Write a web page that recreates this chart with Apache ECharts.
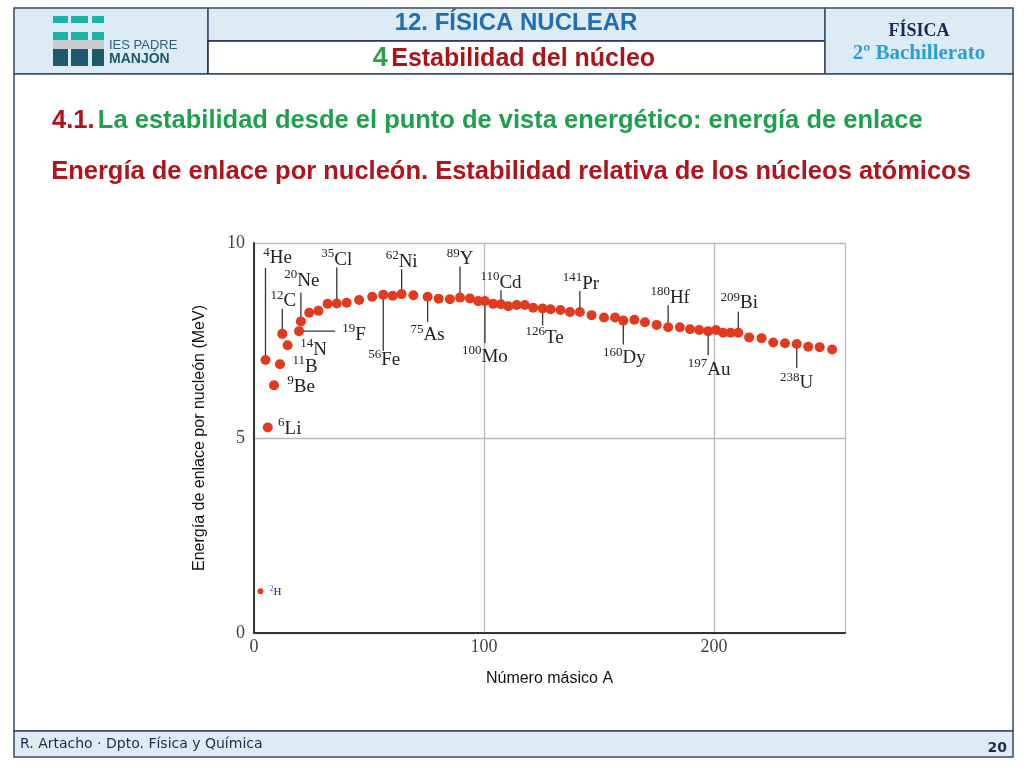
<!DOCTYPE html>
<html>
<head>
<meta charset="utf-8">
<script src="https://cdn.jsdelivr.net/npm/echarts@6/dist/echarts.min.js"></script>
<style>
html,body{margin:0;padding:0;background:#fff;}
#c{width:1024px;height:768px;}
</style>
</head>
<body>
<div id="c"></div>
<script>
// ---- data ----
const xTicks = [0, 100, 200];
const yTicks = [0, 5, 10];
// binding energy per nucleon [mass number A, MeV]
const dots = [
  [5,7.0],[6,5.27],[8.7,6.35],[11.3,6.89],[12.3,7.67],[14.6,7.38],[19.6,7.74],[20.4,7.99],
  [24,8.21],[28,8.26],[32,8.44],[36,8.45],[40.3,8.47],[45.7,8.54],[51.4,8.62],[56.2,8.67],
  [60.3,8.65],[64.2,8.69],[69.3,8.66],[75.5,8.62],[80.3,8.57],[85.2,8.56],[89.6,8.6],[93.9,8.58],
  [97.5,8.51],[100.4,8.51],[104,8.44],[107.4,8.43],[110.6,8.38],[114.2,8.41],[117.8,8.41],[121.4,8.34],
  [125.5,8.32],[129,8.30],[133.3,8.28],[137.4,8.23],[141.7,8.23],[146.8,8.15],[152.2,8.09],[157,8.09],
  [160.6,8.01],[165.4,8.03],[170,7.97],[175.1,7.90],[180.1,7.84],[185.2,7.84],[189.6,7.79],[193.6,7.77],
  [197.5,7.74],[200.9,7.77],[204,7.7],[207.3,7.7],[210.6,7.7],[215.3,7.58],[220.7,7.56],[225.8,7.45],
  [230.9,7.43],[236,7.41],[241,7.34],[246,7.33],[251.4,7.27]
];
const deuteron = [[2.8,1.07]];
// labelled isotopes: [mass number, symbol, A, MeV]
const isotopes = [
  [4,'He',5,7.0],[6,'Li',6,5.27],[9,'Be',8.7,6.35],[11,'B',11.3,6.89],[12,'C',12.3,7.67],
  [14,'N',14.6,7.38],[19,'F',19.6,7.74],[20,'Ne',20.4,7.99],[35,'Cl',36,8.45],[56,'Fe',56.2,8.67],
  [62,'Ni',64.2,8.69],[75,'As',75.5,8.62],[89,'Y',89.6,8.6],[100,'Mo',100.4,8.51],[110,'Cd',107.4,8.43],
  [126,'Te',125.5,8.32],[141,'Pr',141.7,8.23],[160,'Dy',160.6,8.01],[180,'Hf',180.1,7.84],
  [197,'Au',197.5,7.74],[209,'Bi',210.6,7.7],[238,'U',236,7.41],[2,'H',2.8,1.07]
];

// ---- label layout (pixel offsets from each dot: leader line, text centre) ----
const labelLayout = {
  He:{l:[0,-4,0,-92],t:[12,-103]}, Li:{t:[22,0]}, Be:{t:[27,0]}, B:{t:[25,1]},
  C:{l:[0,-4,0,-25],t:[1,-34]}, N:{t:[26,3]}, F:{l:[4,0,36,0],t:[55,2]},
  Ne:{l:[0,-4,0,-29],t:[1,-42]}, Cl:{l:[0,-4,0,-36],t:[0,-45]}, Fe:{l:[0,4,0,56],t:[1,64]},
  Ni:{l:[0,-4,0,-25],t:[0,-34]}, As:{l:[0,4,0,25],t:[0,37]}, Y:{l:[0,-4,0,-31],t:[0,-40]},
  Mo:{l:[0,4,0,42],t:[0,54]}, Cd:{l:[0,-4,0,-14],t:[0,-23]}, Te:{l:[0,4,0,17],t:[2,28]},
  Pr:{l:[0,-4,0,-21],t:[1,-30]}, Dy:{l:[0,4,0,24],t:[1,36]}, Hf:{l:[0,-4,0,-22],t:[2,-31]},
  Au:{l:[0,4,0,24],t:[1,37]}, Bi:{l:[0,-4,0,-21],t:[1,-31]}, U:{l:[0,4,0,24],t:[0,38]},
  H:{t:[15,0],small:true}
};

const RED = '#e23a1f';
const SERIF = "'Liberation Serif','DejaVu Serif',serif";
const SANS = "'Liberation Sans',Arial,sans-serif";
const FRAME = '#3a4a68';
const LIGHT = '#dcebf4';

const chart = echarts.init(document.getElementById('c'), null, {renderer:'canvas'});

function renderLabel(params, api){
  const iso = isotopes[params.dataIndex];
  const p = api.coord([api.value(0), api.value(1)]);
  const L = labelLayout[iso[1]];
  const children = [];
  if (L.l){
    children.push({type:'line', shape:{x1:p[0]+L.l[0], y1:p[1]+L.l[1], x2:p[0]+L.l[2], y2:p[1]+L.l[3]},
      style:{stroke:'#333', lineWidth:1.3}});
  }
  const big = L.small ? 11 : 19, sm = L.small ? 8 : 13, lh = L.small ? 13 : 22;
  children.push({type:'text', x:p[0]+L.t[0], y:p[1]+L.t[1],
    style:{text:'{m|'+iso[0]+'}{s|'+iso[1]+'}', align:'center', verticalAlign:'middle',
      rich:{
        m:{fontSize:sm, fontFamily:SERIF, fill: L.small ? '#3a6ea8' : '#222', verticalAlign:'top', lineHeight:lh},
        s:{fontSize:big, fontFamily:SERIF, fill:'#222', verticalAlign:'bottom', lineHeight:lh}
      }}});
  return {type:'group', children};
}

const graphics = [
  // header boxes
  {type:'rect', shape:{x:14,y:8,width:194,height:66}, style:{fill:LIGHT, stroke:FRAME, lineWidth:1.5}},
  {type:'rect', shape:{x:208,y:8,width:617,height:33}, style:{fill:LIGHT, stroke:FRAME, lineWidth:1.5}},
  {type:'rect', shape:{x:208,y:41,width:617,height:33}, style:{fill:'#fff', stroke:'#1f2a44', lineWidth:1.5}},
  {type:'rect', shape:{x:825,y:8,width:188,height:66}, style:{fill:LIGHT, stroke:FRAME, lineWidth:1.5}},
  // body frame
  {type:'rect', shape:{x:14,y:74,width:999,height:657}, style:{fill:'#fff', stroke:FRAME, lineWidth:1.5}},
  // footer
  {type:'rect', shape:{x:14,y:731,width:999,height:26}, style:{fill:LIGHT, stroke:FRAME, lineWidth:1.5}},
  // logo
  {type:'rect', shape:{x:53,y:16,width:15,height:7}, style:{fill:'#1db3ad'}},
  {type:'rect', shape:{x:71,y:16,width:17,height:7}, style:{fill:'#1db3ad'}},
  {type:'rect', shape:{x:92,y:16,width:12,height:7}, style:{fill:'#1db3ad'}},
  {type:'rect', shape:{x:53,y:32,width:15,height:8}, style:{fill:'#1db3ad'}},
  {type:'rect', shape:{x:71,y:32,width:17,height:8}, style:{fill:'#1db3ad'}},
  {type:'rect', shape:{x:92,y:32,width:12,height:8}, style:{fill:'#1db3ad'}},
  {type:'rect', shape:{x:53,y:40,width:51,height:9}, style:{fill:'#c8ccce'}},
  {type:'rect', shape:{x:53,y:49,width:15,height:17}, style:{fill:'#1b5a6d'}},
  {type:'rect', shape:{x:71,y:49,width:17,height:17}, style:{fill:'#1b5a6d'}},
  {type:'rect', shape:{x:92,y:49,width:12,height:17}, style:{fill:'#1b5a6d'}},
  {type:'text', x:109, y:45, style:{text:'IES PADRE', font:"13px 'Liberation Sans',Arial", fill:'#2a6178', verticalAlign:'middle'}},
  {type:'text', x:109, y:59, style:{text:'MANJÓN', font:"bold 14px 'Liberation Sans',Arial", fill:'#1b5a6d', verticalAlign:'middle'}},
  // titles
  {type:'text', x:516, y:23, style:{text:'12. FÍSICA NUCLEAR', font:"bold 24px "+SANS, fill:'#1f6db3', align:'center', verticalAlign:'middle'}},
  {type:'text', x:514, y:59, style:{text:'{g|4} {r|Estabilidad del núcleo}', align:'center', verticalAlign:'middle',
    rich:{g:{fontSize:27, fontWeight:'bold', fontFamily:SANS, fill:'#2aa048'}, r:{fontSize:25, fontWeight:'bold', fontFamily:SANS, fill:'#a8161b'}}}},
  {type:'text', x:919, y:31, style:{text:'FÍSICA', font:"bold 18px "+SERIF, fill:'#1b2a55', align:'center', verticalAlign:'middle'}},
  {type:'text', x:919, y:54, style:{text:'2º Bachillerato', font:"bold 21px "+SERIF, fill:'#2b9fd3', align:'center', verticalAlign:'middle'}},
  {type:'text', x:52, y:121, style:{text:'{r|4.1.} {g|La estabilidad desde el punto de vista energético: energía de enlace}', verticalAlign:'middle',
    rich:{r:{fontSize:25.5, fontWeight:'bold', fontFamily:SANS, fill:'#b0141c'}, g:{fontSize:25.5, fontWeight:'bold', fontFamily:SANS, fill:'#1fa04f'}}}},
  {type:'text', x:511, y:172, style:{text:'Energía de enlace por nucleón. Estabilidad relativa de los núcleos atómicos', font:"bold 25.5px "+SANS, fill:'#b0141c', align:'center', verticalAlign:'middle'}},
  // footer texts
  {type:'text', x:20, y:744, style:{text:'R. Artacho · Dpto. Física y Química', font:"14px 'DejaVu Sans',sans-serif", fill:'#1c2a4e', verticalAlign:'middle'}},
  {type:'text', x:1007, y:748, style:{text:'20', font:"bold 14px 'DejaVu Sans',sans-serif", fill:'#1c2a4e', align:'right', verticalAlign:'middle'}}
];

chart.setOption({
  animation:false,
  backgroundColor:'#fff',
  graphic:{elements:graphics},
  grid:{left:254, right:179, top:243, bottom:135, containLabel:false, z:5},
  xAxis:{type:'value', min:0, max:257, interval:100,
    name:'Número másico A', nameLocation:'middle', nameGap:38,
    nameTextStyle:{fontFamily:SANS, fontSize:16, color:'#111'},
    axisLine:{show:true, onZero:false, lineStyle:{color:'#333', width:2}},
    axisTick:{show:false},
    axisLabel:{fontFamily:SERIF, fontSize:18, color:'#444', margin:5,
      formatter:v => xTicks.indexOf(v) >= 0 ? String(v) : ''},
    splitLine:{show:true, lineStyle:{color:'#b8b8b8', width:1.3}}
  },
  yAxis:{type:'value', min:0, max:10, interval:5,
    name:'Energía de enlace por nucleón (MeV)', nameLocation:'middle', nameGap:46, nameRotate:90,
    nameTextStyle:{fontFamily:SANS, fontSize:16, color:'#111'},
    axisLine:{show:true, onZero:false, lineStyle:{color:'#333', width:2}},
    axisTick:{show:false},
    axisLabel:{fontFamily:SERIF, fontSize:18, color:'#444', margin:9,
      formatter:v => yTicks.indexOf(v) >= 0 ? String(v) : ''},
    splitLine:{show:true, lineStyle:{color:'#b8b8b8', width:1.3}}
  },
  series:[
    {type:'custom', z:3, coordinateSystem:'cartesian2d', clip:false,
      data:isotopes.map(d => [d[2], d[3]]), renderItem:renderLabel, silent:true},
    {type:'scatter', z:4, data:dots, symbolSize:10, itemStyle:{color:RED, opacity:1}, silent:true},
    {type:'scatter', z:4, data:deuteron, symbolSize:6, itemStyle:{color:RED, opacity:1}, silent:true}
  ]
});
</script>
</body>
</html>
